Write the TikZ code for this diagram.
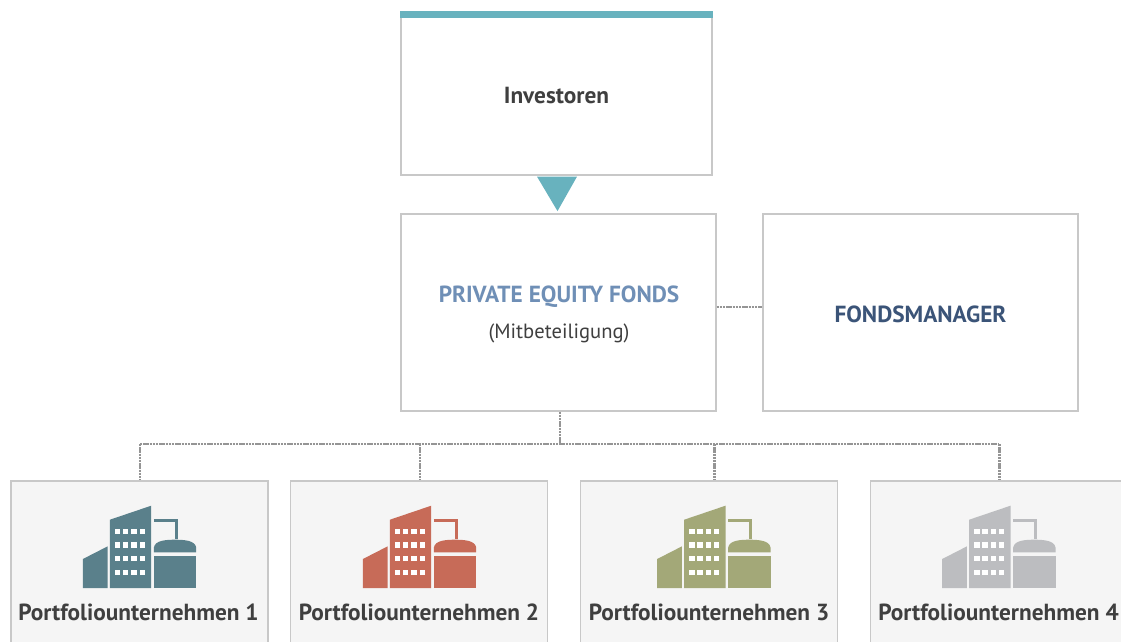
\documentclass[tikz,border=0pt]{standalone}
\usepackage{fontspec}
\setmainfont{PT Sans}
\usetikzlibrary{calc}
\definecolor{tealbar}{HTML}{68B2BE}
\definecolor{boxgray}{HTML}{C8C8C8}
\definecolor{lightfill}{HTML}{F5F5F5}
\definecolor{dotgray}{HTML}{959595}
\definecolor{txtdark}{HTML}{3F3F3F}
\definecolor{pecol}{HTML}{6F8FB6}
\definecolor{fmcol}{HTML}{3B5478}
\definecolor{icA}{HTML}{5A808B}
\definecolor{icB}{HTML}{C76B58}
\definecolor{icC}{HTML}{A3A878}
\definecolor{icD}{HTML}{BCBDC0}
\tikzset{
  whitebox/.style={draw=boxgray, line width=1.2pt, fill=white, inner sep=0pt},
  portbox/.style={draw=boxgray, line width=1.2pt, fill=lightfill, inner sep=0pt,
    minimum width=257pt, minimum height=180pt},
  conn/.style={draw=dotgray, line width=2.6pt, dash pattern=on 2.4pt off 0.8pt},
  boldlbl/.style={font=\fontsize{23.3}{27}\selectfont\bfseries, text=txtdark, inner sep=0pt},
  pics/factory/.style={code={
    \fill[#1] (-56.6,0) -- (-32,0) -- (-32,-41.6) -- (-56.6,-29) -- cycle;
    \fill[#1] (-29.6,0) -- (11.7,0) -- (11.7,-82.3) -- (-29.6,-68.3) -- cycle;
    \foreach \cx in {-24.6,-16.4,-8.2,0}{
      \foreach \cy in {-59,-45.7,-32,-18.3}{
        \fill[white] (\cx,\cy) rectangle ++(5.3,5.3);
      }
    }
    \fill[#1] (14.4,0) rectangle (56.7,-32.3);
    \fill[#1] (14.4,-35.6) -- (14.4,-40.5) .. controls (15.5,-47.5) and (26,-48.3) .. (35.5,-48.3)
      .. controls (45,-48.3) and (55.6,-47.5) .. (56.7,-40.5) -- (56.7,-35.6) -- cycle;
    \draw[#1, line width=2.7pt] (14.4,-67.6) -- (37,-67.6) -- (37,-49);
  }}
}
\begin{document}
\begin{tikzpicture}[x=1pt,y=-1pt]
\useasboundingbox (0,0) rectangle (1121,642);
\clip (0,0) rectangle (1121,642);

% Investoren
\node[whitebox, minimum width=311pt, minimum height=163pt] (inv) at (556.5,93.5) {};
\fill[tealbar] (inv.north west) rectangle ($(inv.north east)+(0,7)$);
\node[boldlbl] (invt) at (556.5,96) {Investoren};
\fill[tealbar] ($(inv.south)+(-19.5,1)$) -- ($(inv.south)+(20.5,1)$) -- ($(inv.south)+(1,35.5)$) -- cycle;

% PE fund and manager
\node[whitebox, minimum width=315pt, minimum height=197pt] (pe) at (558.5,312.5) {};
\node[whitebox, minimum width=315pt, minimum height=197pt] (fm) at (920.5,312.5) {};
\node[boldlbl, text=pecol] (pet) at (559,296.5) {PRIVATE EQUITY FONDS};
\node[font=\fontsize{20.6}{24}\selectfont, text=txtdark, inner sep=0pt] (pes) at (559,333.5) {(Mitbeteiligung)};
\node[boldlbl, text=fmcol] (fmt) at (920.5,314) {FONDSMANAGER};

\draw[conn] ($(pe.east)+(0,-5.5)$) -- ($(fm.west)+(0,-5.5)$);

% portfolio boxes
\node[portbox] (p1) at (139.5,571) {};
\node[portbox] (p2) at (419,571) {};
\node[portbox] (p3) at (709,571) {};
\node[portbox] (p4) at (999.3,571) {};

\coordinate (bus) at (560,444);
\coordinate (d1) at (140,444);
\coordinate (d2) at (420,444);
\coordinate (d3) at (714.3,444);
\coordinate (d4) at (999.3,444);
\draw[conn] (pe.south -| bus) -- (bus);
\draw[conn] (d1) -- (d4);
\draw[conn] (d1) -- (d1 |- p1.north);
\draw[conn] (d2) -- (d2 |- p2.north);
\draw[conn] (d3) -- (d3 |- p3.north);
\draw[conn] (d4) -- (d4 |- p4.north);

\pic at (139.5,588) {factory=icA};
\pic at (419.5,588) {factory=icB};
\pic at (713.8,588) {factory=icC};
\pic at (998.8,588) {factory=icD};

\node[boldlbl] (t1) at (138.5,612.5) {Portfoliounternehmen 1};
\node[boldlbl] (t2) at (419,612.5) {Portfoliounternehmen 2};
\node[boldlbl] (t3) at (709,612.5) {Portfoliounternehmen 3};
\node[boldlbl] (t4) at (998.5,612.5) {Portfoliounternehmen 4};
\end{tikzpicture}
\end{document}
